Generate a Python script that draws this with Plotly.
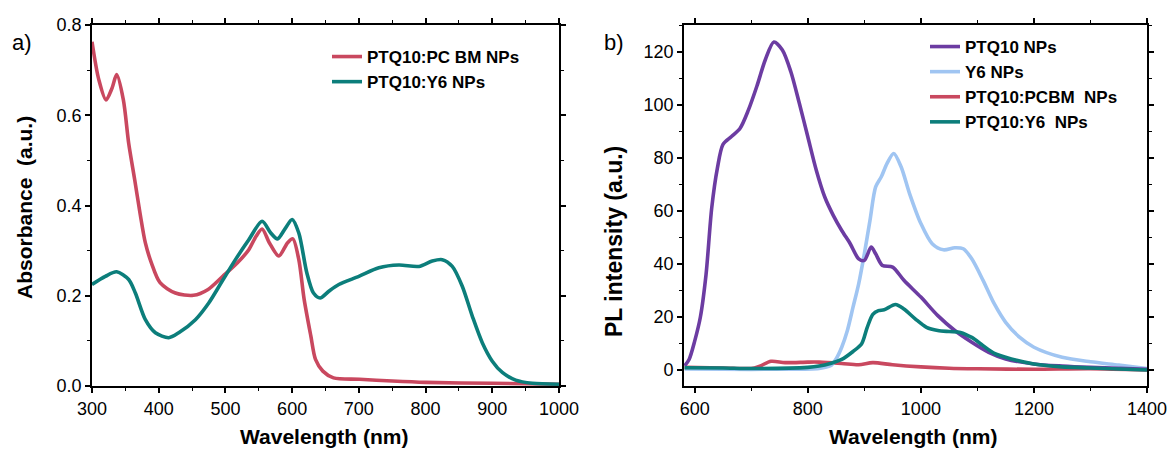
import plotly.graph_objects as go

# ---------------- Panel a: absorbance ----------------
abs_pcbm_wl = [300, 310, 321, 330, 337, 347, 355, 364, 372, 380, 389, 402, 425, 452, 474, 496, 518, 535,
               546, 555, 566, 580, 593, 601, 610, 618, 628, 635, 646, 662, 701, 750, 800, 900, 1000]
abs_pcbm = [0.763, 0.680, 0.634, 0.660, 0.690, 0.634, 0.538, 0.457, 0.383, 0.317, 0.273, 0.229, 0.206, 0.201,
            0.214, 0.243, 0.273, 0.302, 0.332, 0.348, 0.317, 0.288, 0.317, 0.326, 0.280, 0.192, 0.111, 0.059,
            0.033, 0.018, 0.015, 0.011, 0.008, 0.006, 0.004]

abs_y6_wl = [300, 320, 337, 355, 365, 380, 395, 415, 430, 455, 475, 495, 515, 535, 555, 568, 578, 590, 600,
             610, 622, 632, 642, 655, 670, 700, 730, 760, 790, 810, 825, 840, 855, 870, 885, 900, 915, 935,
             960, 1000]
abs_y6 = [0.225, 0.243, 0.253, 0.236, 0.206, 0.147, 0.118, 0.107, 0.118, 0.147, 0.184, 0.232, 0.280, 0.324,
          0.365, 0.339, 0.326, 0.350, 0.369, 0.339, 0.251, 0.206, 0.195, 0.210, 0.225, 0.243, 0.262, 0.268,
          0.265, 0.277, 0.280, 0.265, 0.221, 0.155, 0.096, 0.055, 0.030, 0.013, 0.006, 0.004]

# ---------------- Panel b: PL ----------------
pl_ptq10_wl = [582, 590, 600, 610, 620, 630, 640, 650, 665, 680, 695, 710, 725, 740, 755, 770, 785, 800, 815,
               830, 845, 860, 875, 890, 900, 912, 920, 932, 950, 970, 1000, 1030, 1060, 1090, 1120, 1150,
               1200, 1250, 1300, 1400]
pl_ptq10 = [1.6, 4, 11, 20, 36, 61, 76, 85, 88, 91, 98, 107, 117, 123.6, 120.6, 112.4, 100.5, 87.9, 75.3,
            65.2, 58.3, 52.6, 47.6, 41.9, 41.3, 46.3, 43.8, 39.4, 38.8, 33.8, 27.5, 20.5, 14.9, 10.5, 6.7, 4.2,
            2.3, 1.5, 1.0, 0.3]

pl_y6_wl = [582, 650, 750, 820, 840, 850, 860, 870, 880, 890, 900, 910, 920, 930, 940, 952, 965, 980, 1000,
            1020, 1040, 1060, 1075, 1090, 1110, 1130, 1150, 1175, 1200, 1250, 1300, 1350, 1400]
pl_y6 = [0.4, 0.3, 0.3, 0.6, 1.6, 4.2, 8.6, 14.9, 23.7, 32.5, 43.8, 56.4, 69, 72.8, 77.8, 81.6, 76.6, 66.5,
         55.2, 47.6, 45.3, 46.1, 45.7, 41.9, 33.8, 24.9, 18, 12.3, 8.6, 4.8, 3.1, 1.9, 0.6]

pl_pcbm_wl = [582, 650, 700, 715, 735, 760, 800, 820, 860, 890, 915, 950, 1000, 1050, 1100, 1200, 1300, 1400]
pl_pcbm = [1.0, 0.8, 0.6, 1.5, 3.3, 2.8, 3.0, 3.0, 2.5, 2.0, 2.8, 2.0, 1.2, 0.7, 0.5, 0.3, 0.5, 0.0]

pl_blend_wl = [582, 650, 700, 800, 820, 840, 860, 880, 895, 905, 915, 925, 935, 955, 970, 990, 1010, 1030,
               1050, 1070, 1090, 1110, 1130, 1160, 1200, 1250, 1300, 1400]
pl_blend = [0.9, 0.8, 0.6, 1.0, 1.5, 2.5, 4.0, 7.0, 9.8, 16, 21, 22.4, 22.7, 24.7, 23, 19.3, 16.1, 14.9,
            14.5, 14.2, 12.3, 9.2, 6.3, 4.2, 2.3, 1.2, 0.8, 0.0]

C_RED = "#C9485F"
C_TEAL = "#0C7E7B"
C_PURPLE = "#6C3CA2"
C_LBLUE = "#A0C5F2"

W, H = 1169, 449
LW = 3.6
FONT = "Arial, 'Liberation Sans', sans-serif"

fig = go.Figure()

def line(x, y, name, color, xa, ya, legend, rank):
    return go.Scatter(x=x, y=y, name=f"<b>{name}</b>", mode="lines", xaxis=xa, yaxis=ya, legend=legend,
                      legendrank=rank,
                      line=dict(color=color, width=LW, shape="spline", smoothing=0.8))

fig.add_trace(line(abs_pcbm_wl, abs_pcbm, "PTQ10:PC BM NPs", C_RED, "x", "y", "legend", 1))
fig.add_trace(line(abs_y6_wl, abs_y6, "PTQ10:Y6 NPs", C_TEAL, "x", "y", "legend", 2))

fig.add_trace(line(pl_pcbm_wl, pl_pcbm, "PTQ10:PCBM  NPs", C_RED, "x2", "y2", "legend2", 3))
fig.add_trace(line(pl_y6_wl, pl_y6, "Y6 NPs", C_LBLUE, "x2", "y2", "legend2", 2))
fig.add_trace(line(pl_ptq10_wl, pl_ptq10, "PTQ10 NPs", C_PURPLE, "x2", "y2", "legend2", 1))
fig.add_trace(line(pl_blend_wl, pl_blend, "PTQ10:Y6  NPs", C_TEAL, "x2", "y2", "legend2", 4))

def px_x(p):
    return p / W

def px_y(p):
    return 1 - p / H

ydom = [px_y(386), px_y(25)]

axis_common = dict(showline=True, linecolor="black", linewidth=1.8, mirror="allticks",
                   ticks="outside", ticklen=5, tickwidth=1.5, tickcolor="black",
                   showgrid=False, zeroline=False, automargin=False,
                   tickfont=dict(family=FONT, size=18, color="black"))

fig.update_layout(
    width=W, height=H,
    margin=dict(l=0, r=0, t=0, b=0),
    paper_bgcolor="white", plot_bgcolor="white",
    font=dict(family=FONT, color="black"),
    xaxis=dict(domain=[px_x(92), px_x(559)], range=[300, 1000], dtick=100, tick0=300,
               minor=dict(dtick=50, ticklen=3, tickwidth=1.2, tickcolor="black", ticks="outside"),
               anchor="y", **axis_common),
    yaxis=dict(domain=ydom, range=[0, 0.8], dtick=0.2, tickformat=".1f",
               minor=dict(dtick=0.1, ticklen=3, tickwidth=1.2, tickcolor="black", ticks="outside"),
               anchor="x", **axis_common),
    xaxis2=dict(domain=[px_x(684), px_x(1147)], range=[581, 1400], dtick=200, tick0=600,
                minor=dict(dtick=100, tick0=600, ticklen=3, tickwidth=1.2, tickcolor="black", ticks="outside"),
                anchor="y2", **axis_common),
    yaxis2=dict(domain=ydom, range=[-6, 130], dtick=20, tick0=0,
                minor=dict(dtick=10, tick0=0, ticklen=3, tickwidth=1.2, tickcolor="black", ticks="outside"),
                anchor="x2", **axis_common),
    legend=dict(x=px_x(327), y=px_y(39), xanchor="left", yanchor="top",
                bgcolor="rgba(0,0,0,0)", font=dict(family=FONT, size=17, color="black"),
                traceorder="normal", itemwidth=30),
    legend2=dict(x=px_x(925), y=px_y(29), xanchor="left", yanchor="top",
                 bgcolor="rgba(0,0,0,0)", font=dict(family=FONT, size=17, color="black"),
                 traceorder="normal", itemwidth=30, tracegroupgap=0),
    showlegend=True,
)

def ann(text, x, y, size, bold=True, angle=0):
    fig.add_annotation(text=f"<b>{text}</b>" if bold else text, x=px_x(x), y=px_y(y),
                       xref="paper", yref="paper", showarrow=False, textangle=angle,
                       xanchor="center", yanchor="middle",
                       font=dict(family=FONT, size=size, color="black"))

ann("Wavelength (nm)", 324, 436, 21)
ann("Wavelength (nm)", 913, 436, 21)
ann("Absorbance  (a.u.)", 24, 208, 21, angle=-90)
ann("PL intensity (a.u.)", 614, 242, 23, angle=-90)
ann("a)", 22, 43, 22, bold=False)
ann("b)", 614, 43, 22, bold=False)

fig.write_html("out.html", config={"displayModeBar": False},
               post_script="document.body.style.margin='0px';document.body.style.overflow='hidden';")
